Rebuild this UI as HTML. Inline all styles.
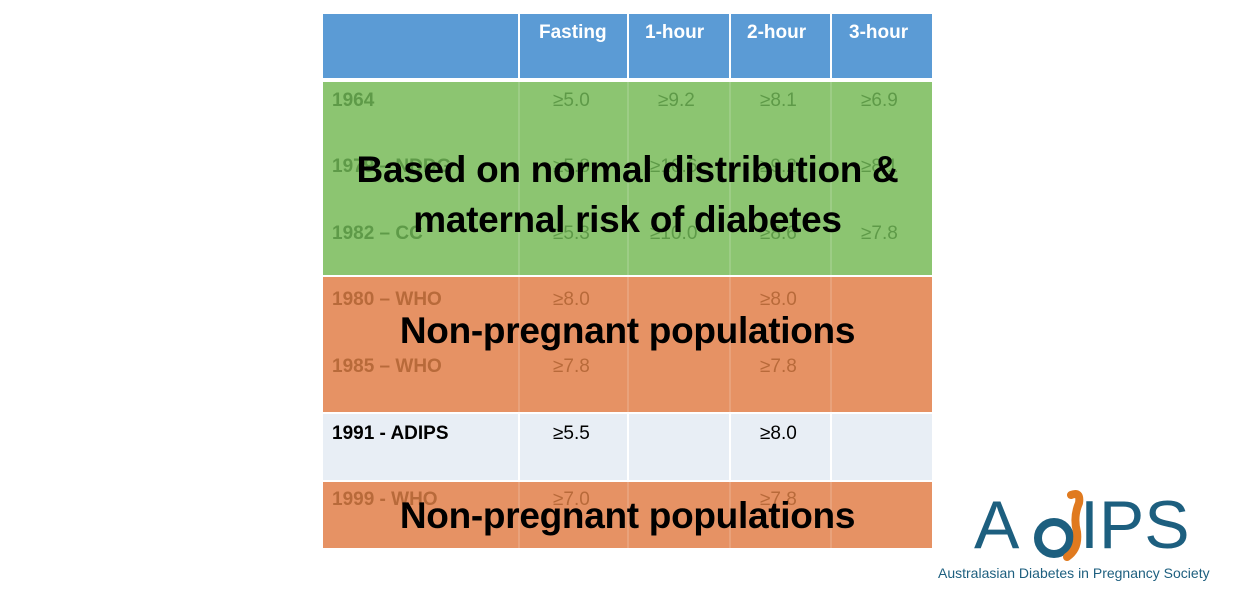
<!DOCTYPE html>
<html><head><meta charset="utf-8"><style>
body{margin:0;width:1254px;height:597px;background:#fff;position:relative;overflow:hidden;font-family:"Liberation Sans",sans-serif}
.b{position:absolute}
.t{position:absolute;font-size:19px;white-space:nowrap}
.h{color:#fff;font-weight:bold;font-size:19px;top:22px}
.g{color:#5e9a48}.o{color:#b86a3a}
.big{position:absolute;left:323px;width:609px;text-align:center;font-weight:bold;font-size:37px;line-height:42px;color:#000;white-space:nowrap;letter-spacing:-0.3px}
.s{position:absolute;width:2px;background:rgba(255,255,255,0.15)}
.w{position:absolute;width:2px;background:#fff}
</style></head><body>
<div class="b" style="left:323px;top:14px;width:609px;height:64px;background:#5b9bd5"></div>
<div class="b" style="left:323px;top:82px;width:609px;height:193px;background:#8cc571"></div>
<div class="b" style="left:323px;top:277px;width:609px;height:135px;background:#e69264"></div>
<div class="b" style="left:323px;top:414px;width:609px;height:66px;background:#e8eef5"></div>
<div class="b" style="left:323px;top:482px;width:609px;height:66px;background:#e69264"></div>
<div class="s" style="left:518px;top:82px;height:466px"></div>
<div class="s" style="left:627px;top:82px;height:466px"></div>
<div class="s" style="left:729px;top:82px;height:466px"></div>
<div class="s" style="left:830px;top:82px;height:466px"></div>
<div class="w" style="left:518px;top:14px;height:64px"></div>
<div class="w" style="left:627px;top:14px;height:64px"></div>
<div class="w" style="left:729px;top:14px;height:64px"></div>
<div class="w" style="left:830px;top:14px;height:64px"></div>
<div class="w" style="left:518px;top:414px;height:66px"></div>
<div class="w" style="left:627px;top:414px;height:66px"></div>
<div class="w" style="left:729px;top:414px;height:66px"></div>
<div class="w" style="left:830px;top:414px;height:66px"></div>

<div class="t h" style="left:539px">Fasting</div>
<div class="t h" style="left:645px">1-hour</div>
<div class="t h" style="left:747px">2-hour</div>
<div class="t h" style="left:849px">3-hour</div>

<div class="t g" style="left:332px;top:90px;font-weight:bold">1964</div>
<div class="t g" style="left:553px;top:90px">≥5.0</div>
<div class="t g" style="left:658px;top:90px">≥9.2</div>
<div class="t g" style="left:760px;top:90px">≥8.1</div>
<div class="t g" style="left:861px;top:90px">≥6.9</div>
<div class="t g" style="left:332px;top:156px;font-weight:bold">1979 – NDDG</div>
<div class="t g" style="left:553px;top:156px">≥5.8</div>
<div class="t g" style="left:650px;top:156px">≥10.6</div>
<div class="t g" style="left:760px;top:156px">≥9.2</div>
<div class="t g" style="left:861px;top:156px">≥8.1</div>
<div class="t g" style="left:332px;top:223px;font-weight:bold">1982 – CC</div>
<div class="t g" style="left:553px;top:223px">≥5.3</div>
<div class="t g" style="left:650px;top:223px">≥10.0</div>
<div class="t g" style="left:760px;top:223px">≥8.6</div>
<div class="t g" style="left:861px;top:223px">≥7.8</div>

<div class="t o" style="left:332px;top:289px;font-weight:bold">1980 – WHO</div>
<div class="t o" style="left:553px;top:289px">≥8.0</div>
<div class="t o" style="left:760px;top:289px">≥8.0</div>
<div class="t o" style="left:332px;top:356px;font-weight:bold">1985 – WHO</div>
<div class="t o" style="left:553px;top:356px">≥7.8</div>
<div class="t o" style="left:760px;top:356px">≥7.8</div>

<div class="t" style="left:332px;top:423px;font-weight:bold;color:#000">1991 - ADIPS</div>
<div class="t" style="left:553px;top:423px;color:#000">≥5.5</div>
<div class="t" style="left:760px;top:423px;color:#000">≥8.0</div>

<div class="t o" style="left:332px;top:489px;font-weight:bold">1999 - WHO</div>
<div class="t o" style="left:553px;top:489px">≥7.0</div>
<div class="t o" style="left:760px;top:489px">≥7.8</div>

<div class="big" style="top:149px">Based on normal distribution &amp;</div>
<div class="big" style="top:199px">maternal risk of diabetes</div>
<div class="big" style="top:310px">Non-pregnant populations</div>
<div class="big" style="top:495px">Non-pregnant populations</div>

<!-- logo -->
<div class="b" style="left:974px;top:487px;font-size:68px;line-height:76px;color:#1d5f7f">A</div>
<div class="b" style="left:1034px;top:518px;width:24px;height:24px;border:8px solid #1d5f7f;border-radius:50%"></div>
<svg class="b" style="left:1053px;top:487px" width="36" height="75"><path d="M18 8 Q28 4 26 16 Q20 30 24 45 Q26 62 14 70" stroke="#e07a1f" stroke-width="8" fill="none" stroke-linecap="round"/></svg>
<div class="b" style="left:1080px;top:487px;font-size:68px;line-height:76px;color:#1d5f7f">IPS</div>
<div class="b" style="left:938px;top:565px;font-size:14px;color:#1d5f7f;white-space:nowrap">Australasian Diabetes in Pregnancy Society</div>
</body></html>
